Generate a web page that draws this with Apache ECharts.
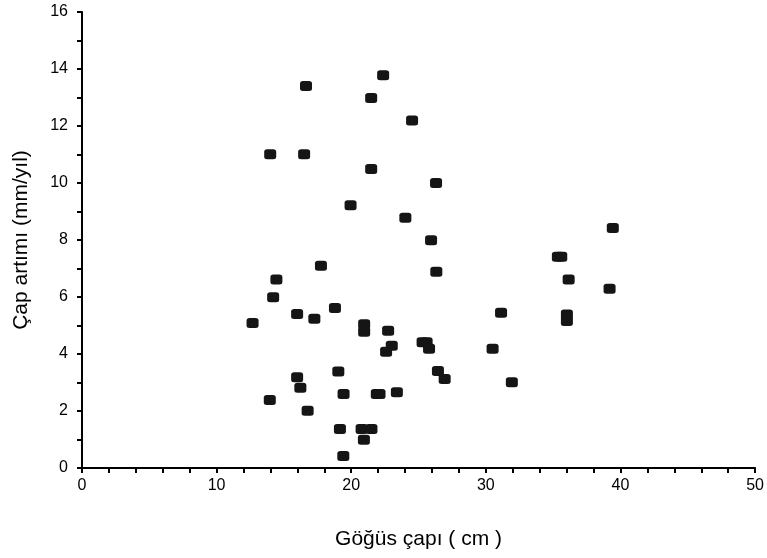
<!DOCTYPE html>
<html>
<head>
<meta charset="utf-8">
<script src="https://cdn.jsdelivr.net/npm/echarts@6/dist/echarts.min.js"></script>
<style>html,body{margin:0;padding:0;background:#fff;}#c{width:767px;height:558px;}</style>
</head>
<body>
<div id="c"></div>
<script>
var xTitle = 'Göğüs çapı ( cm )';
var yTitle = 'Çap artımı (mm/yıl)';
var gogusCapi = [
  12.67, 13.98, 13.95, 14.2, 14.44, 15.98, 15.98, 16.22, 16.5, 16.64,
  16.76, 17.26, 17.75, 18.79, 19.04, 19.16, 19.43, 19.41, 19.95, 20.96,
  20.96, 20.77, 20.94, 21.5, 21.48, 21.48, 21.9, 22.1, 22.37, 22.74,
  22.59, 23.01, 23.39, 24.02, 24.52, 25.3, 25.6, 25.78, 25.93, 26.3,
  26.32, 26.44, 26.94, 30.5, 31.13, 31.93, 35.35, 35.6, 36.15, 36.02,
  36.02, 39.19, 39.43
];
var capArtimi = [
  5.09, 11.01, 2.39, 5.99, 6.61, 5.40, 3.18, 2.82, 11.01, 13.40,
  2.01, 5.24, 7.10, 5.61, 3.39, 1.37, 2.60, 0.42, 9.22, 5.04,
  4.78, 1.37, 0.99, 1.37, 12.98, 10.49, 2.60, 2.60, 13.78, 4.82,
  4.08, 4.29, 2.66, 8.78, 12.19, 4.41, 4.41, 4.18, 7.99, 10.0,
  6.89, 3.40, 3.12, 4.18, 5.45, 3.01, 7.41, 7.41, 6.61, 5.39,
  5.16, 6.29, 8.42
];
var xTicks = {min: 0, max: 50, interval: 10};
var yTicks = {min: 0, max: 16, interval: 2};

var pts = gogusCapi.map(function (x, i) { return [x, capArtimi[i]]; });
var chart = echarts.init(document.getElementById('c'));
var FONT = 'Liberation Sans, Arial, sans-serif';
var axisCommon = {
  axisLine: {show: true, onZero: false, lineStyle: {color: '#000', width: 2}},
  axisTick: {show: true, inside: false, length: 5, lineStyle: {color: '#000', width: 2}},
  splitLine: {show: false},
  nameTextStyle: {color: '#000', fontSize: 21, fontFamily: FONT}
};
chart.setOption({
  animation: false,
  backgroundColor: '#fff',
  grid: {left: 82, top: 12, right: 10, bottom: 90, containLabel: false},
  xAxis: Object.assign({}, axisCommon, {
    type: 'value', min: xTicks.min, max: xTicks.max, interval: xTicks.interval,
    name: xTitle, nameLocation: 'middle', nameGap: 61,
    minorTick: {show: true, splitNumber: 5, length: 5, lineStyle: {color: '#000', width: 2}},
    axisLabel: {color: '#000', fontSize: 16, margin: 10, fontFamily: FONT}
  }),
  yAxis: Object.assign({}, axisCommon, {
    type: 'value', min: yTicks.min, max: yTicks.max, interval: yTicks.interval,
    name: yTitle, nameLocation: 'middle', nameGap: 50, nameRotate: 90,
    minorTick: {show: true, splitNumber: 2, length: 5, lineStyle: {color: '#000', width: 2}},
    axisLabel: {color: '#000', fontSize: 16, margin: 14, fontFamily: FONT}
  }),
  series: [{
    type: 'scatter',
    data: pts,
    symbol: 'roundRect',
    symbolSize: [12, 10],
    itemStyle: {color: '#151515', opacity: 1}
  }]
});
</script>
</body>
</html>
